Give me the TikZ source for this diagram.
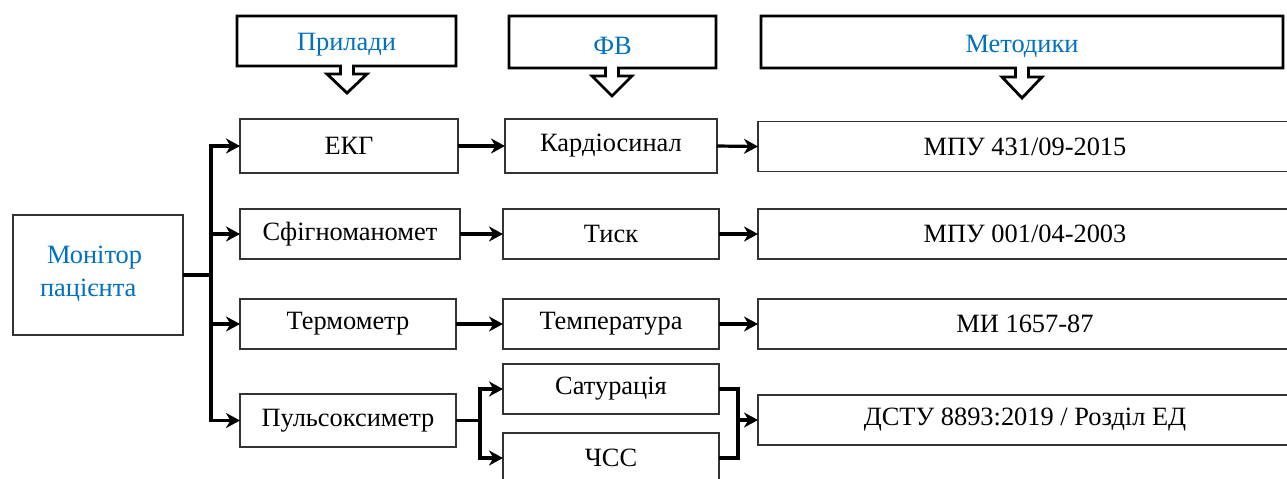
\documentclass[tikz,border=0pt]{standalone}
\usepackage{fontspec}
\setmainfont{Liberation Serif}
\usetikzlibrary{arrows.meta}
\definecolor{hblue}{HTML}{0070C0}
\definecolor{bord}{HTML}{333333}
\tikzset{
  x=0.5pt, y=-0.5pt,
  every node/.style={font=\fontsize{13.2}{16.5}\selectfont},
  box/.style={draw=bord, line width=0.8pt, fill=white, inner sep=0pt, outer sep=0pt, minimum height=25pt},
  conn/.style={line width=1.6pt, line join=miter},
  arr/.style={conn, -{Stealth[length=7pt,width=7.5pt,inset=2.2pt]}},
  hdr/.style={draw=black, line width=1.4pt, fill=white, line join=miter},
  htext/.style={text=hblue}
}
\begin{document}
\begin{tikzpicture}
\useasboundingbox (0,0) rectangle (1287,478);

% header callouts
\draw[hdr] (237,16) -- (456,16) -- (456,66) -- (353.5,66) -- (353.5,74) -- (367,74) -- (347,93) -- (327,74) -- (340.5,74) -- (340.5,66) -- (237,66) -- cycle;
\node[htext] (hdev) at (346.5,45) {Прилади};
\draw[hdr] (509,16) -- (716,16) -- (716,68) -- (618.5,68) -- (618.5,76) -- (632,76) -- (612,96) -- (592,76) -- (605.5,76) -- (605.5,68) -- (509,68) -- cycle;
\node[htext] (hfv) at (612.5,46) {ФВ};
\draw[hdr] (761,16) -- (1283,16) -- (1283,68) -- (1028.5,68) -- (1028.5,77) -- (1042,77) -- (1022,98) -- (1002,77) -- (1015.5,77) -- (1015.5,68) -- (761,68) -- cycle;
\node[htext] (hmet) at (1022,46) {Методики};

% monitor
\node[box, minimum width=85pt, minimum height=60pt] (mon) at (98,275) {};
\node[htext, align=left, anchor=west] (montext) at (33,274) {\hspace{3.5pt}Монітор\\пацієнта};

% devices
\node[box, minimum width=109pt, minimum height=27pt] (ekg) at (349,146) {ЕКГ};
\node[box, minimum width=110pt] (sfig) at (350,234) {Сфігноманомет};
\node[box, minimum width=108pt] (term) at (348,324) {Термометр};
\node[box, minimum width=108pt, minimum height=26.5pt] (puls) at (348,420.5) {Пульсоксиметр};

% physical quantities
\node[box, minimum width=106pt, minimum height=27pt] (kard) at (611,146) {Кардіосинал};
\node[box, minimum width=108pt] (tysk) at (611,234) {Тиск};
\node[box, minimum width=108pt] (temp) at (611,324) {Температура};
\node[box, minimum width=108pt] (sat) at (611,389) {Сатурація};
\node[box, minimum width=108pt] (chss) at (611,458) {ЧСС};

% methods
\node[box, minimum width=267pt] (m1) at (1025,146.5) {МПУ 431/09-2015};
\node[box, minimum width=267pt] (m2) at (1025,234) {МПУ 001/04-2003};
\node[box, minimum width=267pt] (m3) at (1025,324) {МИ 1657-87};
\node[box, minimum width=267pt] (m4) at (1025,420) {ДСТУ 8893:2019 / Розділ ЕД};

% connectors
\coordinate (bus) at (211,275);
\draw[conn] (mon.east) -- (bus);
\draw[arr] (bus) |- (ekg.west);
\draw[arr] (bus) |- (sfig.west);
\draw[arr] (bus) |- (term.west);
\draw[arr] (bus) |- (puls.west);

\draw[arr] (ekg.east) -- (kard.west);
\draw[arr] (sfig.east) -- (tysk.west);
\draw[arr] (term.east) -- (temp.west);
\draw[arr] (kard.east) -- (m1.west);
\draw[arr] (tysk.east) -- (m2.west);
\draw[arr] (temp.east) -- (m3.west);

\coordinate (pb) at (480,420.5);
\draw[conn] (puls.east) -- (pb);
\draw[arr] (pb) |- (sat.west);
\draw[arr] (pb) |- (chss.west);

\coordinate (jn) at (738,420);
\draw[conn] (sat.east) -| (jn) |- (chss.east);
\draw[arr] (jn) -- (m4.west);
\end{tikzpicture}
\end{document}
